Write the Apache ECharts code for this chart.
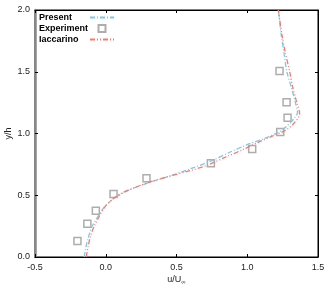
<!DOCTYPE html>
<html><head><meta charset="utf-8">
<script src="https://cdn.jsdelivr.net/npm/echarts@6/dist/echarts.min.js"></script>
<style>html,body{margin:0;padding:0;background:#fff}#c{width:332px;height:295px}</style>
</head><body><div id="c"></div>
<script>
const xTicks = [-0.5, 0.0, 0.5, 1.0, 1.5];
const yTicks = [0.0, 0.5, 1.0, 1.5, 2.0];
const presentX = [-0.152,-0.14,-0.125,-0.10,-0.06,-0.02,0.02,0.08,0.18,0.30,0.45,0.60,0.75,0.88,1.00,1.12,1.22,1.28,1.33,1.355,1.34,1.31,1.28,1.26,1.24,1.22];
const presentY = [0,0.08,0.15,0.24,0.32,0.39,0.44,0.49,0.55,0.60,0.655,0.715,0.78,0.85,0.91,0.96,1.01,1.06,1.12,1.17,1.25,1.38,1.5,1.65,1.8,2.0];
const iaccX = [-0.138,-0.125,-0.11,-0.085,-0.05,-0.01,0.04,0.10,0.20,0.32,0.45,0.60,0.72,0.85,0.97,1.08,1.18,1.26,1.32,1.37,1.35,1.32,1.30,1.27,1.245,1.22];
const iaccY = [0,0.08,0.16,0.24,0.32,0.40,0.46,0.51,0.56,0.61,0.655,0.70,0.745,0.81,0.87,0.93,0.98,1.02,1.07,1.16,1.25,1.38,1.5,1.65,1.8,2.0];
const expX = [-0.20,-0.13,-0.07,0.055,0.288,0.743,1.035,1.233,1.285,1.278,1.228];
const expY = [0.13,0.27,0.375,0.51,0.637,0.76,0.875,1.012,1.128,1.253,1.506];

const zip = (a,b)=>a.map((v,i)=>[v,b[i]]);
const font = 'Liberation Sans, Arial, sans-serif';
const chart = echarts.init(document.getElementById('c'), null, {renderer:'canvas'});
const fmt = v=>v.toFixed(1);
chart.setOption({
  animation:false,
  textStyle:{fontFamily:font},
  grid:{left:35,right:14,top:10,bottom:38,containLabel:false,outerBoundsMode:'none',
    show:true,borderColor:'#000',borderWidth:1,backgroundColor:'transparent'},
  legend:{
    orient:'vertical', left:39, top:13, padding:0, align:'right', itemGap:2,
    itemWidth:24, itemHeight:7, symbolKeepAspect:true,
    formatter:n=>'{a|'+n+'}',
    textStyle:{fontSize:9,fontWeight:'bold',color:'#000',fontFamily:font,
      rich:{a:{width:46,align:'left',fontSize:9,fontWeight:'bold',color:'#000',fontFamily:font}}},
    data:[
      {name:'Present', itemStyle:{opacity:0}},
      {name:'Experiment', icon:'path://M0,0L10,0L10,10L0,10Z'},
      {name:'Iaccarino', itemStyle:{opacity:0}}
    ]
  },
  xAxis:[{
    type:'value', min:xTicks[0], max:xTicks[xTicks.length-1], interval:0.5, position:'bottom',
    name:'u/U{s|∞}', nameLocation:'middle', nameGap:17, nameMoveOverlap:false,
    nameTextStyle:{fontSize:9,color:'#222',rich:{s:{fontSize:6,verticalAlign:'bottom',padding:[5,0,0,0],color:'#222'}}},
    axisLine:{show:true,onZero:false,lineStyle:{color:'#000',width:1}},
    axisTick:{show:true,inside:true,length:3,lineStyle:{color:'#000'}},
    axisLabel:{fontSize:9,color:'#222',margin:6,formatter:fmt},
    splitLine:{show:false}
  },{
    type:'value', min:xTicks[0], max:xTicks[xTicks.length-1], interval:0.5, position:'top',
    axisLine:{show:true,onZero:false,lineStyle:{color:'#000',width:1}},
    axisTick:{show:true,inside:true,length:3,lineStyle:{color:'#000'}},
    axisLabel:{show:false}, splitLine:{show:false}
  }],
  yAxis:[{
    type:'value', min:yTicks[0], max:yTicks[yTicks.length-1], interval:0.5, position:'left',
    name:'y/h', nameLocation:'middle', nameGap:22, nameRotate:90, nameMoveOverlap:false,
    nameTextStyle:{fontSize:9,color:'#222'},
    axisLine:{show:true,onZero:false,lineStyle:{color:'#888',width:2.5}},
    axisTick:{show:true,inside:true,length:3,lineStyle:{color:'#000'}},
    axisLabel:{fontSize:9,color:'#222',margin:5,formatter:fmt},
    splitLine:{show:false}
  },{
    type:'value', min:yTicks[0], max:yTicks[yTicks.length-1], interval:0.5, position:'right',
    axisLine:{show:true,onZero:false,lineStyle:{color:'#000',width:1}},
    axisTick:{show:true,inside:true,length:3,lineStyle:{color:'#000'}},
    axisLabel:{show:false}, splitLine:{show:false}
  }],
  series:[{
    name:'Present', type:'line', data:zip(presentX,presentY), smooth:0.3,
    showSymbol:false, symbol:'none', color:'#7ec8e8', itemStyle:{opacity:0},
    lineStyle:{color:'#7ec8e8',width:1.3,type:[5,2,1,2]}
  },{
    name:'Experiment', type:'scatter', data:zip(expX,expY),
    symbol:'rect', symbolSize:7,
    itemStyle:{color:'rgba(255,255,255,0)',borderColor:'#999',borderWidth:1.5}
  },{
    name:'Iaccarino', type:'line', data:zip(iaccX,iaccY), smooth:0.3,
    showSymbol:false, symbol:'none', color:'#f47c6e', itemStyle:{opacity:0},
    lineStyle:{color:'#f47c6e',width:1.3,type:[5,2,1,2,1,2]}
  }]
});
</script></body></html>
